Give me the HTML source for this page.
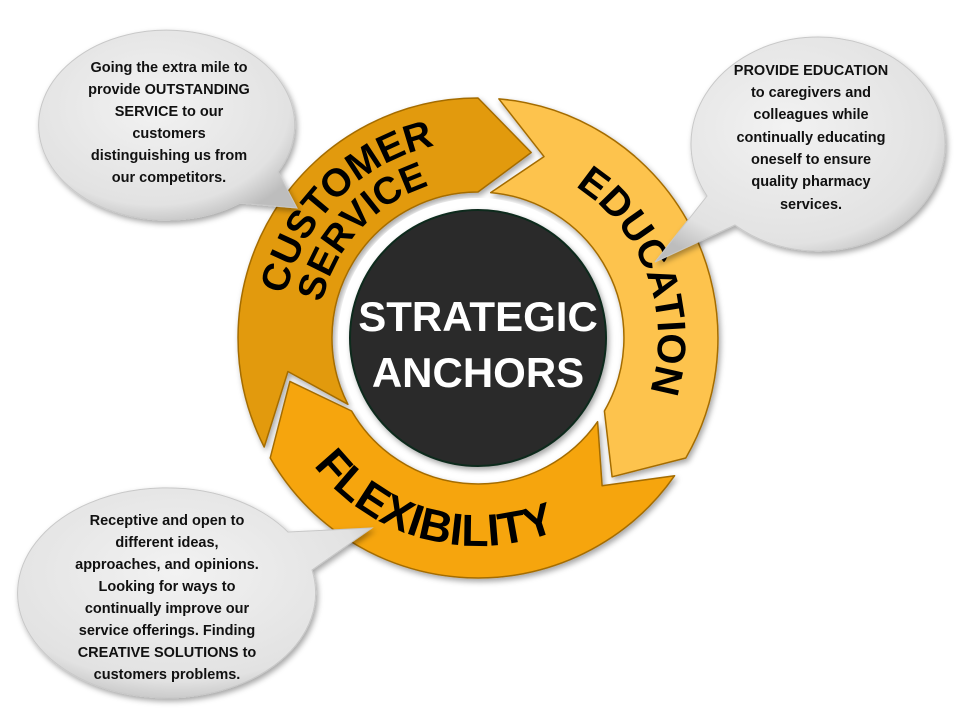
<!DOCTYPE html>
<html><head><meta charset="utf-8"><style>
html,body{margin:0;padding:0;background:#fff;width:960px;height:720px;overflow:hidden}
svg{display:block}
.bt{font-family:"Liberation Sans",sans-serif;font-weight:bold;font-size:14.5px;fill:#111;text-anchor:middle}
.rt{font-family:"Liberation Sans",sans-serif;font-weight:bold;fill:#000}
</style></head><body>
<svg id="s" width="960" height="720" viewBox="0 0 960 720" xmlns="http://www.w3.org/2000/svg">
<defs>
<radialGradient id="bg" cx="45%" cy="40%" r="65%"><stop offset="0" stop-color="#f2f2f2"/><stop offset="0.8" stop-color="#e2e2e2"/><stop offset="1" stop-color="#bdbdbd"/></radialGradient>
<filter id="sh" x="-20%" y="-20%" width="140%" height="140%"><feDropShadow dx="2" dy="3" stdDeviation="3" flood-color="#000" flood-opacity="0.35"/></filter>
<path id="pCust" d=""/><path id="pServ" d=""/><path id="pEdu" d=""/><path id="pFlex" d=""/>
</defs>
<g id="ring" filter="url(#sh)"></g>
<circle cx="478" cy="338" r="140" fill="#fff"/>
<circle cx="478" cy="338" r="128" fill="#2b2b2b" stroke="#0f2a1f" stroke-width="2" filter="url(#sh)"/>
<text x="478" y="331" text-anchor="middle" font-family="Liberation Sans,sans-serif" font-weight="bold" font-size="42" fill="#fff">STRATEGIC</text>
<text x="478" y="387" text-anchor="middle" font-family="Liberation Sans,sans-serif" font-weight="bold" font-size="42" fill="#fff">ANCHORS</text>
<text class="rt" font-size="39"><textPath href="#pCust" startOffset="50%" text-anchor="middle">CUSTOMER</textPath></text>
<text class="rt" font-size="38"><textPath href="#pServ" startOffset="50%" text-anchor="middle">SERVICE</textPath></text>
<text class="rt" font-size="40"><textPath href="#pEdu" startOffset="50%" text-anchor="middle">EDUCATION</textPath></text>
<text class="rt" font-size="45"><textPath href="#pFlex" startOffset="50%" text-anchor="middle">FLEXIBILITY</textPath></text>

<g filter="url(#sh)" fill="url(#bg)" stroke="#c8c8c8" stroke-width="1">
<path d="M 278 172 A 128 95 0 1 0 240 203 L 297 208 Z"/>
<path d="M 707 196 A 127 107 0 1 1 735 225 L 655 262 Z"/>
<path d="M 288 532 A 149 105 0 1 0 312 570 L 372 528 Z"/>
</g>
<g class="bt">
<text x="169" y="72">Going the extra mile to</text>
<text x="169" y="94">provide OUTSTANDING</text>
<text x="169" y="116">SERVICE to our</text>
<text x="169" y="138">customers</text>
<text x="169" y="160">distinguishing us from</text>
<text x="169" y="182">our competitors.</text>
<text x="811" y="75">PROVIDE EDUCATION</text>
<text x="811" y="97">to caregivers and</text>
<text x="811" y="119">colleagues while</text>
<text x="811" y="142">continually educating</text>
<text x="811" y="164">oneself to ensure</text>
<text x="811" y="186">quality pharmacy</text>
<text x="811" y="209">services.</text>
<text x="167" y="525">Receptive and open to</text>
<text x="167" y="547">different ideas,</text>
<text x="167" y="569">approaches, and opinions.</text>
<text x="167" y="591">Looking for ways to</text>
<text x="167" y="613">continually improve our</text>
<text x="167" y="635">service offerings. Finding</text>
<text x="167" y="657">CREATIVE SOLUTIONS to</text>
<text x="167" y="679">customers problems.</text>
</g>
</svg>
<script>
var cx=478,cy=338,r1=146,r2=240,rm=(r1+r2)/2;
function P(r,a){a=a*Math.PI/180;return (cx+r*Math.cos(a)).toFixed(1)+' '+(cy+r*Math.sin(a)).toFixed(1);}
function seg(a0,n0,a1,t1,col){
  var large=(a1-a0)>180?1:0;
  var d='M '+P(r2,a0)+' A '+r2+' '+r2+' 0 '+large+' 1 '+P(r2,a1)+' L '+P(rm,t1)+' L '+P(r1,a1)+
   ' A '+r1+' '+r1+' 0 '+large+' 0 '+P(r1,a0)+' L '+P(rm,n0)+' Z';
  var p=document.createElementNS('http://www.w3.org/2000/svg','path');
  p.setAttribute('d',d);p.setAttribute('fill',col);p.setAttribute('stroke','#a46c00');p.setAttribute('stroke-width','1.5');p.setAttribute('stroke-linejoin','round');
  document.getElementById('ring').appendChild(p);
}
seg(153,170,270,286,'#e29a0c');
seg(275,290,390,406,'#fdc34d');
seg(395,410,510,527,'#f6a511');
function arc(id,r,a0,a1,sw){
  document.getElementById(id).setAttribute('d','M '+P(r,a0)+' A '+r+' '+r+' 0 0 '+sw+' '+P(r,a1));
}
arc('pCust',197,165,285,1);
arc('pServ',160,170,275,1);
arc('pEdu',180,280,400,1);
arc('pFlex',208,165,45,0);
</script>
</body></html>
